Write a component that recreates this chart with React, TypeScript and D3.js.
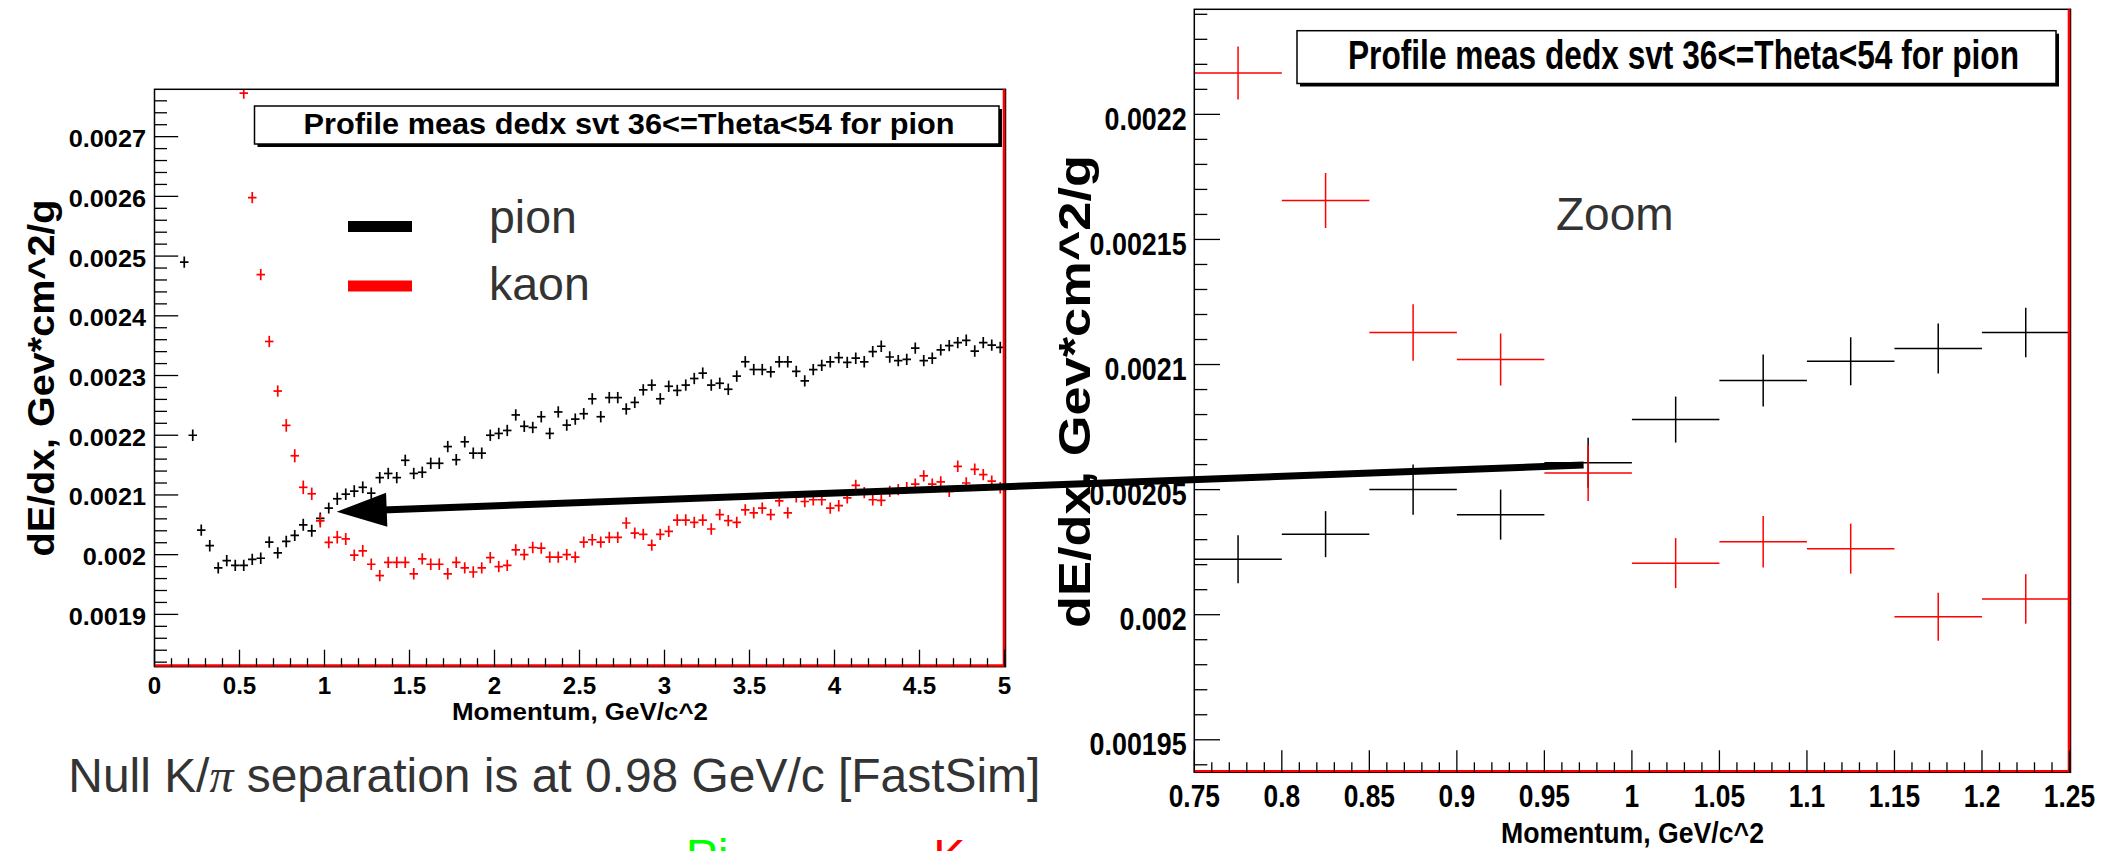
import React from "react";
import * as d3 from "d3";

// ---------------- data ----------------
const BIN_WIDTH = 0.05; // GeV, profile binning 0..5 in 100 bins
const PION_FIRST_BIN = 3;
const pionValues = [
  0.00249, 0.0022, 0.002041, 0.002015, 0.001978, 0.00199, 0.001982, 0.001982, 0.001992, 0.001994,
  0.002021, 0.002003, 0.0020222, 0.0020322, 0.00205, 0.00204, 0.0020607, 0.002078, 0.0020936, 0.0021013,
  0.0021064, 0.0021128, 0.002103, 0.002129, 0.002136, 0.002129, 0.002158, 0.002136, 0.002138, 0.002153,
  0.002153, 0.002181, 0.002159, 0.002189, 0.00217, 0.00217, 0.0022, 0.002203, 0.002208, 0.002234,
  0.002215, 0.002213, 0.002231, 0.002203, 0.002239, 0.002217, 0.002227, 0.002236, 0.002261, 0.002231,
  0.002263, 0.002263, 0.002244, 0.002255, 0.002276, 0.002284, 0.002261, 0.002282, 0.002275, 0.002284,
  0.002295, 0.002304, 0.002284, 0.002287, 0.002277, 0.002299, 0.002323, 0.00231, 0.00231, 0.002306,
  0.002323, 0.002323, 0.002307, 0.002291, 0.00231, 0.002317, 0.002323, 0.00233, 0.002322, 0.002329,
  0.002323, 0.00234, 0.002349, 0.002331, 0.002325, 0.002327, 0.002346, 0.002325, 0.002329, 0.002343,
  0.00235, 0.002355, 0.002359, 0.002341, 0.002355, 0.002351, 0.002347,
];
const KAON_FIRST_BIN = 10;
const kaonValues = [
  0.002773, 0.002598, 0.002469, 0.002357, 0.002274, 0.0022165, 0.0021656, 0.0021128, 0.002102, 0.0020566,
  0.0020206, 0.0020292, 0.0020264, 0.0019992, 0.0020063, 0.001984, 0.001965, 0.001987, 0.001987, 0.001987,
  0.001968, 0.001993, 0.001984, 0.001984, 0.001968, 0.001987, 0.001978, 0.001971, 0.001978, 0.001995,
  0.00198, 0.001982, 0.002008, 0.002, 0.002012, 0.002011, 0.001996, 0.001996, 0.002, 0.001996,
  0.002021, 0.002025, 0.002021, 0.002029, 0.002029, 0.002053, 0.002036, 0.002034, 0.002016, 0.002034,
  0.002039, 0.002058, 0.002058, 0.002054, 0.002058, 0.002043, 0.002067, 0.002057, 0.002054, 0.002075,
  0.00207, 0.002078, 0.002067, 0.00209, 0.00207, 0.002097, 0.002089, 0.002092, 0.002092, 0.002078,
  0.002082, 0.002095, 0.002116, 0.002104, 0.002092, 0.002091, 0.002106, 0.002109, 0.002112, 0.002118,
  0.002132, 0.002118, 0.002122, 0.002106, 0.002148, 0.00212, 0.002143, 0.002134, 0.002123, 0.002112,
];
const ZOOM_FIRST_BIN = 15;
const pionZoomErrors = [0.96e-5, 0.92e-5, 1.0e-5, 1.0e-5, 1.0e-5, 0.92e-5, 1.04e-5, 0.96e-5, 1.0e-5, 0.99e-5];
const kaonZoomErrors = [1.06e-5, 1.1e-5, 1.13e-5, 1.04e-5, 1.12e-5, 1.0e-5, 1.03e-5, 1.0e-5, 0.96e-5, 0.99e-5];
const DEFAULT_ERROR = 0.95e-5;

const leftXDomain = [0, 5];
const leftYDomain = [0.0018124, 0.0027793];
const rightXDomain = [0.75, 1.25];
const rightYDomain = [0.001937, 0.002242];

const leftXMajor = [0, 0.5, 1, 1.5, 2, 2.5, 3, 3.5, 4, 4.5, 5];
const leftYMajor = [0.0019, 0.002, 0.0021, 0.0022, 0.0023, 0.0024, 0.0025, 0.0026, 0.0027];
const rightXMajor = [0.75, 0.8, 0.85, 0.9, 0.95, 1, 1.05, 1.1, 1.15, 1.2, 1.25];
const rightYMajor = [0.00195, 0.002, 0.00205, 0.0021, 0.00215, 0.0022];

const TITLE = "Profile meas dedx svt 36<=Theta<54 for pion";
const X_TITLE = "Momentum, GeV/c^2";
const Y_TITLE = "dE/dx, Gev*cm^2/g";
const legendItems = [
  { label: "pion", color: "#000000" },
  { label: "kaon", color: "#ff0000" },
];
// arrow: from the crossing in the zoomed plot to the crossing in the full plot
const ARROW_FROM = { p: 0.9724, v: 0.0020598 };
const ARROW_TO = { p: 1.072, v: 0.002072 };

// ---------------------------------------------------------------
type Pt = { p: number; v: number; err: number };
function buildSeries(first: number, values: number[], zoomErr: number[]): Pt[] {
  return values.map((v, i) => {
    const k = first + i;
    const zi = k - ZOOM_FIRST_BIN;
    const err = zi >= 0 && zi < zoomErr.length ? zoomErr[zi] : DEFAULT_ERROR;
    return { p: (k + 0.5) * BIN_WIDTH, v, err };
  });
}
const pion = buildSeries(PION_FIRST_BIN, pionValues, pionZoomErrors);
const kaon = buildSeries(KAON_FIRST_BIN, kaonValues, kaonZoomErrors);

const fmt = (v: number) => String(parseFloat(v.toFixed(7)));
const ROOTFONT = "'Liberation Sans', Arial, Helvetica, sans-serif";

function minorTicks(lo: number, hi: number, step: number, major: number[]) {
  const n0 = Math.ceil(lo / step - 1e-6);
  const n1 = Math.floor(hi / step + 1e-6);
  return d3
    .range(n0, n1 + 1)
    .map((n) => n * step)
    .filter((t) => !major.some((m) => Math.abs(m - t) < step * 0.01));
}

type Cfg = {
  id: string;
  x: d3.ScaleLinear<number, number>;
  y: d3.ScaleLinear<number, number>;
  xMajor: number[];
  xMinorStep: number;
  yMajor: number[];
  yMinorStep: number;
  xMajLen: number;
  xMinLen: number;
  yMajLen: number;
  yMinLen: number;
  yLab: { size: number; sx: number; xEnd: number; dy: number };
  xLab: { size: number; sx: number; base: number };
  xTitle: { size: number; cx: number; base: number; len: number };
  yTitle: { size: number; bx: number; cy: number; len: number };
  box: { x0: number; y0: number; x1: number; y1: number; tx: number; tb: number; size: number; len: number };
  crossW: number;
};

function Plot({ c }: { c: Cfg }) {
  const [x0, x1] = c.x.range();
  const [y1, y0] = c.y.range();
  const fx1 = x1 + 1;
  const xd = c.x.domain();
  const yd = c.y.domain();
  const xMinor = minorTicks(xd[0], xd[1], c.xMinorStep, c.xMajor);
  const yMinor = minorTicks(yd[0], yd[1], c.yMinorStep, c.yMajor);
  const series = [
    { pts: pion, color: "#000000" },
    { pts: kaon, color: "#ff0000" },
  ];
  return (
    <g>
      <defs>
        <clipPath id={c.id}>
          <rect x={x0} y={y0} width={fx1 - x0} height={y1 - y0} />
        </clipPath>
      </defs>
      {/* data */}
      <g clipPath={`url(#${c.id})`}>
        {series.map((s, si) =>
          s.pts
            .filter((d) => d.p >= xd[0] && d.p <= xd[1])
            .map((d, i) => (
              <g key={`${si}-${i}`} stroke={s.color} strokeWidth={c.crossW}>
                <line x1={c.x(d.p - BIN_WIDTH / 2)} x2={c.x(d.p + BIN_WIDTH / 2)} y1={c.y(d.v)} y2={c.y(d.v)} />
                <line x1={c.x(d.p)} x2={c.x(d.p)} y1={c.y(d.v - d.err)} y2={c.y(d.v + d.err)} />
              </g>
            ))
        )}
      </g>
      {/* frame */}
      <rect x={x0} y={y0} width={fx1 - x0} height={y1 - y0} fill="none" stroke="#000" strokeWidth={1.5} />
      <line x1={x0} x2={fx1 - 1.5} y1={y1 - 1.2} y2={y1 - 1.2} stroke="#ff0000" strokeWidth={2.4} />
      <line x1={fx1 - 1.5} x2={fx1 - 1.5} y1={y0} y2={y1} stroke="#ff0000" strokeWidth={2.6} />
      {/* ticks */}
      <g stroke="#000" strokeWidth={1.3}>
        {c.yMajor.map((t) => (
          <line key={"ym" + t} x1={x0} x2={x0 + c.yMajLen} y1={c.y(t)} y2={c.y(t)} />
        ))}
        {yMinor.map((t) => (
          <line key={"yn" + t} x1={x0} x2={x0 + c.yMinLen} y1={c.y(t)} y2={c.y(t)} />
        ))}
        {c.xMajor.map((t) => (
          <line key={"xm" + t} x1={c.x(t)} x2={c.x(t)} y1={y1} y2={y1 - c.xMajLen} />
        ))}
        {xMinor.map((t) => (
          <line key={"xn" + t} x1={c.x(t)} x2={c.x(t)} y1={y1} y2={y1 - c.xMinLen} />
        ))}
      </g>
      {/* tick labels */}
      <g fontFamily={ROOTFONT} fontWeight="bold" fill="#000">
        {c.yMajor.map((t) => (
          <text
            key={"yl" + t}
            transform={`translate(${c.yLab.xEnd},${c.y(t) + c.yLab.dy}) scale(${c.yLab.sx},1)`}
            textAnchor="end"
            fontSize={c.yLab.size}
          >
            {fmt(t)}
          </text>
        ))}
        {c.xMajor.map((t) => (
          <text
            key={"xl" + t}
            transform={`translate(${c.x(t)},${c.xLab.base}) scale(${c.xLab.sx},1)`}
            textAnchor="middle"
            fontSize={c.xLab.size}
          >
            {fmt(t)}
          </text>
        ))}
        <text
          x={c.xTitle.cx - c.xTitle.len / 2}
          y={c.xTitle.base}
          fontSize={c.xTitle.size}
          textLength={c.xTitle.len}
          lengthAdjust="spacingAndGlyphs"
        >
          {X_TITLE}
        </text>
        <text
          transform={`translate(${c.yTitle.bx},${c.yTitle.cy + c.yTitle.len / 2}) rotate(-90)`}
          fontSize={c.yTitle.size}
          textLength={c.yTitle.len}
          lengthAdjust="spacingAndGlyphs"
        >
          {Y_TITLE}
        </text>
      </g>
      {/* title box */}
      <rect x={c.box.x0 + 3} y={c.box.y0 + 3} width={c.box.x1 - c.box.x0} height={c.box.y1 - c.box.y0} fill="#000" />
      <rect
        x={c.box.x0}
        y={c.box.y0}
        width={c.box.x1 - c.box.x0}
        height={c.box.y1 - c.box.y0}
        fill="#fff"
        stroke="#000"
        strokeWidth={1.5}
      />
      <text
        x={c.box.tx}
        y={c.box.tb}
        fontFamily={ROOTFONT}
        fontWeight="bold"
        fontSize={c.box.size}
        textLength={c.box.len}
        lengthAdjust="spacingAndGlyphs"
      >
        {TITLE}
      </text>
    </g>
  );
}

export default function App() {
  const xL = d3.scaleLinear().domain(leftXDomain).range([154.5, 1004.5]);
  const yL = d3.scaleLinear().domain(leftYDomain).range([666.7, 89.3]);
  const xR = d3.scaleLinear().domain(rightXDomain).range([1194.3, 2069.5]);
  const yR = d3.scaleLinear().domain(rightYDomain).range([772.3, 9.3]);

  const left: Cfg = {
    id: "clipL",
    x: xL,
    y: yL,
    xMajor: leftXMajor,
    xMinorStep: 0.1,
    yMajor: leftYMajor,
    yMinorStep: 0.00002,
    xMajLen: 17,
    xMinLen: 8.5,
    yMajLen: 23.7,
    yMinLen: 12.5,
    yLab: { size: 23, sx: 1.1, xEnd: 146, dy: 10.5 },
    xLab: { size: 23, sx: 1.05, base: 693.5 },
    xTitle: { size: 23.5, cx: 580, base: 719.5, len: 256 },
    yTitle: { size: 37, bx: 53.6, cy: 378, len: 357 },
    box: { x0: 254.5, y0: 106, x1: 999, y1: 144, tx: 303.6, tb: 134, size: 29, len: 651 },
    crossW: 1.7,
  };
  const right: Cfg = {
    id: "clipR",
    x: xR,
    y: yR,
    xMajor: rightXMajor,
    xMinorStep: 0.01,
    yMajor: rightYMajor,
    yMinorStep: 0.00001,
    xMajLen: 22,
    xMinLen: 10,
    yMajLen: 25.7,
    yMinLen: 13,
    yLab: { size: 32, sx: 0.84, xEnd: 1186.7, dy: 15.5 },
    xLab: { size: 31, sx: 0.85, base: 807.3 },
    xTitle: { size: 29, cx: 1632.5, base: 843, len: 263 },
    yTitle: { size: 44.5, bx: 1090, cy: 391.5, len: 473 },
    box: { x0: 1297, y0: 30.7, x1: 2056, y1: 83.5, tx: 1348, tb: 69, size: 41.5, len: 671 },
    crossW: 1.5,
  };

  // arrow geometry from data coordinates of the two plots
  const ax0 = xR(ARROW_FROM.p);
  const ay0 = yR(ARROW_FROM.v);
  const ax1 = xL(ARROW_TO.p);
  const ay1 = yL(ARROW_TO.v);
  const ang = Math.atan2(ay1 - ay0, ax1 - ax0);
  const headLen = 50;
  const headHalf = 17;
  const bx = ax1 - headLen * Math.cos(ang);
  const by = ay1 - headLen * Math.sin(ang);
  const nx = -Math.sin(ang);
  const ny = Math.cos(ang);
  const head = [
    [ax1, ay1],
    [bx + nx * headHalf, by + ny * headHalf],
    [bx - nx * headHalf, by - ny * headHalf],
  ];

  const legendX0 = 348;
  const legendX1 = 412;
  const legendYs = [226.5, 286];
  const legendBase = [233.3, 300];

  return (
    <svg
      width={2104}
      height={851}
      viewBox="0 0 2104 851"
      style={{ position: "absolute", left: 0, top: 0, background: "#fff" }}
    >
      <rect x={0} y={0} width={2104} height={851} fill="#fff" />
      <Plot c={left} />
      <Plot c={right} />

      {/* legend in the left plot */}
      {legendItems.map((it, i) => (
        <g key={it.label}>
          <rect x={legendX0} y={legendYs[i] - 5.5} width={legendX1 - legendX0} height={11} fill={it.color} />
          <text x={489} y={legendBase[i]} fontFamily={ROOTFONT} fontSize={46.5} fill="#333">
            {it.label}
          </text>
        </g>
      ))}

      <text x={1556} y={230} fontFamily={ROOTFONT} fontSize={46} fill="#333">
        Zoom
      </text>

      {/* arrow */}
      <line x1={ax0} y1={ay0} x2={bx + 4 * Math.cos(ang)} y2={by + 4 * Math.sin(ang)} stroke="#000" strokeWidth={7} />
      <polygon points={head.map((p) => p.join(",")).join(" ")} fill="#000" />

      <text x={68.3} y={791.7} fontFamily={ROOTFONT} fontSize={48} fill="#333" textLength={972} lengthAdjust="spacingAndGlyphs">
        Null K/
        <tspan fontFamily="'Liberation Serif', 'DejaVu Serif', serif" fontStyle="italic">
          π
        </tspan>{" "}
        separation is at 0.98 GeV/c [FastSim]
      </text>
      <text x={685.7} y={872.5} fontFamily={ROOTFONT} fontSize={48} fill="#00ff00">
        Pi
      </text>
      <text x={933.3} y={872.5} fontFamily={ROOTFONT} fontSize={48} fill="#ff0000">
        K
      </text>
    </svg>
  );
}
